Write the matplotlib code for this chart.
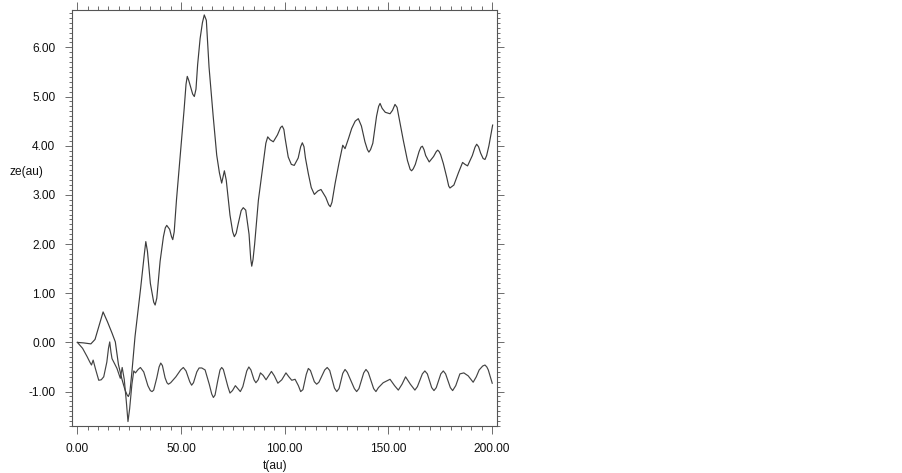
import matplotlib
matplotlib.use("Agg")
import matplotlib.pyplot as plt
from matplotlib.ticker import MultipleLocator, FormatStrFormatter

plt.rcParams['font.family'] = ['Liberation Sans', 'DejaVu Sans']

# Upper series (rising)
t_a = [0, 3, 6.5, 8.5, 10.5, 12.4, 14.5, 16.7, 18.3, 19.8, 21.5, 23.0, 24.0, 24.6, 25.3, 26.3, 27.8, 30.5, 32.3, 33.0,
       33.8, 35.2, 36.8, 37.5, 38.3, 39.9, 41.5, 42.4, 43.1, 44.5, 45.4, 46.0, 46.7, 47.8, 49.5, 51.5, 52.4, 53.0, 53.7,
       55.6, 56.4, 57.2, 58.0, 59.2, 60.3, 61.2, 62.2, 63.5, 65.5, 67.2, 68.5, 69.6, 70.4, 70.9, 71.8, 73.6, 74.9, 75.7,
       76.6, 77.5, 79.0, 80.0, 81.2, 82.8, 83.6, 84.1, 84.7, 85.5, 87.3, 89.5, 90.9, 91.8, 93.0, 94.5, 96.5, 98.0, 98.8,
       99.6, 100.2, 101.7, 103.2, 104.6, 106.5, 107.7, 108.5, 109.3, 110.0, 111.4, 112.8, 114.3, 116.0, 117.5, 119.8,
       121.2, 122.0, 122.8, 124.3, 126.2, 128.0, 129.1, 130.8, 132.3, 134.0, 135.5, 137.0, 138.7,
       139.9, 140.6, 141.4, 142.5, 144.3, 145.3, 146.0, 147.0, 148.5, 150.8, 152.0, 153.2, 154.2, 155.0, 157.2, 159.2,
       160.5, 161.2, 162.0, 163.0, 164.8, 165.7, 166.4, 167.2, 168.0, 169.7, 171.8, 173.1, 173.8, 174.5, 175.2, 176.5,
       178.2, 179.1, 179.7, 181.6, 183.8, 185.8, 187.0, 188.2, 190.5, 191.8, 192.6, 193.5, 194.5, 195.7, 196.6, 197.4,
       198.5, 200.3]
ze_a = [0.0, -0.01, -0.03, 0.06, 0.35, 0.62, 0.42, 0.19, 0.01, -0.45, -0.75, -0.97, -1.07, -1.1, -1.02, -0.6, 0.12, 1.1, 1.8, 2.05,
        1.85, 1.2, 0.82, 0.76, 0.9, 1.65, 2.15, 2.33, 2.38, 2.3, 2.15, 2.09, 2.25, 2.9, 3.75, 4.75, 5.25, 5.41, 5.33,
        5.05, 5.0, 5.15, 5.65, 6.18, 6.5, 6.66, 6.55, 5.6, 4.6, 3.81, 3.45, 3.24, 3.4, 3.49, 3.3, 2.59, 2.25, 2.15,
        2.22, 2.4, 2.68, 2.74, 2.69, 2.2, 1.7, 1.55, 1.68, 2.0, 2.89, 3.6, 4.05, 4.18, 4.12, 4.08, 4.22, 4.37, 4.40,
        4.33, 4.15, 3.77, 3.62, 3.60, 3.75, 3.98, 4.06, 3.98, 3.75, 3.43, 3.15, 3.01, 3.08, 3.11, 2.95,
        2.8, 2.76, 2.85, 3.23, 3.65, 4.01, 3.94, 4.15, 4.35, 4.5, 4.55, 4.4, 4.08,
        3.92, 3.87, 3.92, 4.05, 4.6, 4.8, 4.86, 4.76, 4.68, 4.65, 4.72, 4.84, 4.78, 4.6, 4.11, 3.7,
        3.52, 3.49, 3.53, 3.62, 3.88, 3.97, 3.99, 3.92, 3.8, 3.67, 3.78, 3.88, 3.91, 3.88, 3.82, 3.64,
        3.35, 3.18, 3.14, 3.2, 3.45, 3.66, 3.62, 3.59, 3.8, 3.97, 4.03, 3.98, 3.85, 3.74, 3.72, 3.8,
        4.0, 4.42]

# Lower series (oscillating)
t_b = [0, 2.5, 4.7, 6.0, 6.8, 7.6, 8.8, 10.3, 11.5, 12.7, 14.2, 15.0, 15.6, 16.2, 16.7, 19.1, 20.7, 21.6, 22.6,
       23.6, 24.4, 25.2, 26.3, 27.2, 28.0, 29.3, 30.4, 32.0, 34.0, 35.2, 36.0, 36.8, 38.3, 39.4, 40.2, 41.0, 42.3,
       43.2, 43.9, 45.0, 47.5, 49.8, 51.1, 52.4, 54.2, 55.1, 56.0, 57.6, 58.7, 60.0, 61.6, 63.6, 64.8, 65.6, 66.4,
       67.7, 68.8, 69.6, 70.4, 72.6, 73.6, 74.8, 76.2, 77.6, 78.6, 79.8, 81.7, 82.7, 83.7, 85.2, 86.1, 87.2, 88.3,
       89.6, 91.0, 92.4, 93.6, 95.0, 96.7, 98.6, 100.6, 102.0, 103.4, 105.0, 106.6, 107.7, 108.8, 110.4, 111.4,
       112.4, 114.3, 115.4, 116.5, 119.3, 120.5, 121.7, 124.0, 125.1, 126.2, 128.0, 129.1, 130.2, 133.6, 134.7,
       135.8, 138.1, 139.2, 140.3, 142.9, 144.0, 145.2, 147.5, 150.8, 153.0, 154.8, 156.6, 158.3, 160.6, 162.8,
       164.0, 166.4, 167.6, 168.8, 170.9, 172.0, 173.1, 175.3, 176.5, 177.6, 179.9, 181.0, 182.5, 184.5, 186.4,
       188.5, 190.9, 192.4, 193.8, 195.5, 196.6, 197.5, 198.2, 200.1]
ze_b = [0.0, -0.12, -0.29, -0.4, -0.46, -0.36, -0.55, -0.77, -0.76, -0.7, -0.4, -0.12, 0.01, -0.2, -0.33, -0.53,
        -0.73, -0.51, -0.75, -1.2, -1.61, -1.35, -0.85, -0.58, -0.62, -0.55, -0.51, -0.6, -0.88, -0.98, -1.0, -0.97,
        -0.72, -0.5, -0.42, -0.47, -0.72, -0.82, -0.85, -0.82, -0.7, -0.56, -0.51, -0.58, -0.8, -0.87, -0.82,
        -0.6, -0.52, -0.52, -0.56, -0.85, -1.05, -1.12, -1.07, -0.78, -0.56, -0.51, -0.55, -0.9, -1.03, -0.98,
        -0.88, -0.95, -1.0, -0.9, -0.58, -0.5, -0.56, -0.76, -0.82, -0.76, -0.62, -0.67, -0.76, -0.67, -0.59,
        -0.68, -0.83, -0.76, -0.62, -0.7, -0.77, -0.75, -0.88, -1.0, -0.96, -0.65, -0.53, -0.57, -0.8, -0.85,
        -0.81, -0.56, -0.51, -0.57, -0.93, -1.0, -0.94, -0.63, -0.55, -0.61, -0.94, -1.0, -0.94, -0.62, -0.55,
        -0.61, -0.94, -1.0, -0.92, -0.82, -0.75, -0.88, -0.97, -0.85, -0.7, -0.85, -0.97, -0.9, -0.64, -0.58,
        -0.64, -0.92, -0.98, -0.92, -0.64, -0.58, -0.64, -0.92, -0.98, -0.88, -0.64, -0.62, -0.68, -0.81, -0.7,
        -0.56, -0.48, -0.46, -0.5, -0.56, -0.83]

x_ticks = [0, 50, 100, 150, 200]
y_ticks = [-1, 0, 1, 2, 3, 4, 5, 6]

fig = plt.figure(figsize=(9.02, 4.73), dpi=100)
ax = fig.add_axes([72/902, 1 - 426/473, (497 - 72)/902, (426 - 10)/473])

ax.plot(t_a, ze_a, color='#3c3c3c', lw=0.85)
ax.plot(t_b, ze_b, color='#444444', lw=0.85)

ax.set_xlim(-2.6, 202.4)
ax.set_ylim(-1.70, 6.76)
ax.set_xticks(x_ticks)
ax.set_yticks(y_ticks)
ax.xaxis.set_minor_locator(MultipleLocator(5))
ax.yaxis.set_minor_locator(MultipleLocator(0.1))
ax.xaxis.set_major_formatter(FormatStrFormatter('%.2f'))
ax.yaxis.set_major_formatter(FormatStrFormatter('%.2f'))

for s in ax.spines.values():
    s.set_color('#555555')
    s.set_linewidth(0.8)

ax.tick_params(which='both', direction='out', top=True, right=True, color='#555555',
               labelsize=8.6, width=0.6, labelcolor='#111111')
ax.tick_params(axis='x', which='major', length=6, pad=6)
ax.tick_params(axis='x', which='minor', length=3)
ax.tick_params(axis='y', which='major', length=5, pad=7)
ax.tick_params(axis='y', which='minor', length=2.5)

fig.text(10/902, 1 - 172/473, 'ze(au)', fontsize=8.6, ha='left', va='center', color='#111111')
fig.text(275/902, 1 - 466/473, 't(au)', fontsize=8.6, ha='center', va='center', color='#111111')

fig.savefig('out.png', dpi=100)
